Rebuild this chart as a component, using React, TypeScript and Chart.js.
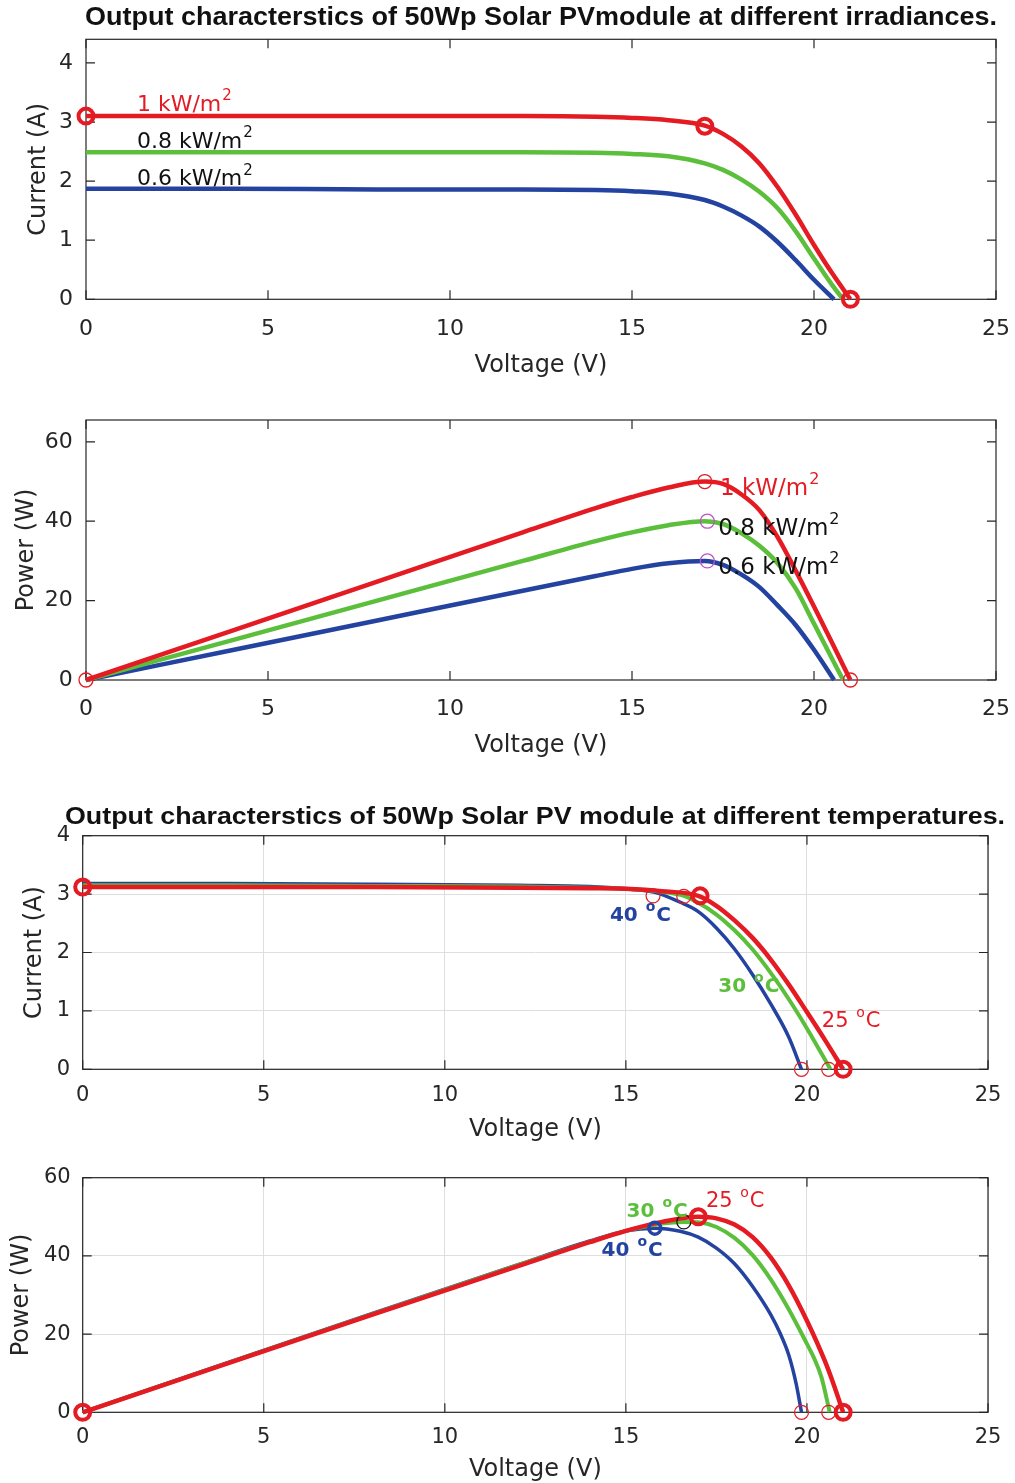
import React, { useEffect, useRef } from 'react';
import { Chart, registerables } from 'chart.js';

Chart.register(...registerables);

// ---------- colours ----------
const RED = '#e41b23';
const GREEN = '#5cbf3c';
const BLUE = '#2443a0';
const MAGENTA = '#c050c8';
const INK = '#262626';
const GRID = '#dedede';

// ---------- axis ticks ----------
const VOLT_MIN = 0;
const VOLT_MAX = 25;
const VOLT_STEP = 5;

// ---------- Panel 1: I-V at different irradiances ----------
const ivIrrV_1 = [0, 4, 8, 12, 14, 15, 16, 17, 17.5, 18, 18.5, 19, 19.5, 20, 20.5, 21];
const ivIrrI_1 = [3.10, 3.10, 3.10, 3.10, 3.09, 3.07, 3.03, 2.94, 2.80, 2.59, 2.30, 1.90, 1.43, 0.92, 0.44, 0];
const ivIrrV_08 = [0, 4, 8, 12, 14, 15, 16, 17, 17.5, 18, 18.5, 19, 19.5, 20, 20.5, 20.8];
const ivIrrI_08 = [2.49, 2.49, 2.49, 2.49, 2.48, 2.46, 2.42, 2.30, 2.19, 2.03, 1.82, 1.54, 1.15, 0.69, 0.24, 0];
const ivIrrV_06 = [0, 4, 8, 12, 14, 15, 16, 17, 17.5, 18, 18.5, 19, 19.5, 20, 20.55];
const ivIrrI_06 = [1.87, 1.87, 1.86, 1.86, 1.85, 1.83, 1.79, 1.68, 1.57, 1.42, 1.23, 0.97, 0.66, 0.33, 0];
const ivIrrMarkV = [0, 17.0, 21.0];
const ivIrrMarkI = [3.10, 2.93, 0];

// ---------- Panel 2: P-V at different irradiances ----------
const pvIrrP_1 = [0, 12.4, 24.8, 37.2, 43.3, 46.1, 48.5, 50.0, 49.4, 46.8, 42.8, 36.0, 27.5, 18.5, 9.3, 0];
const pvIrrP_08 = [0, 10.0, 20.0, 30.0, 35.0, 37.2, 39.0, 40.0, 39.3, 37.0, 33.8, 29.4, 23.0, 14.2, 5.3, 0];
const pvIrrP_06 = [0, 7.5, 15.0, 22.5, 26.2, 28.0, 29.4, 30.0, 29.0, 26.6, 23.4, 18.8, 13.8, 7.6, 0];
const pvIrrRedMarkV = [0, 17.0, 21.0];
const pvIrrRedMarkP = [0, 50.0, 0];
const pvIrrMagMarkV = [17.07, 17.07];
const pvIrrMagMarkP = [40.0, 30.0];

// ---------- Panel 3: I-V at different temperatures ----------
const ivTempV_25 = [0, 4, 8, 12, 14, 15, 16, 17, 17.5, 18, 18.5, 19, 19.5, 20, 20.5, 21];
const ivTempI_25 = [3.12, 3.12, 3.12, 3.11, 3.10, 3.09, 3.05, 2.97, 2.80, 2.55, 2.25, 1.88, 1.45, 0.98, 0.50, 0];
const ivTempV_30 = [0, 4, 8, 12, 14, 15, 16, 16.6, 17, 17.5, 18, 18.5, 19, 19.5, 20, 20.65];
const ivTempI_30 = [3.15, 3.15, 3.14, 3.13, 3.11, 3.09, 3.04, 2.97, 2.85, 2.65, 2.38, 2.05, 1.65, 1.20, 0.70, 0];
const ivTempV_40 = [0, 4, 8, 12, 14, 15, 15.8, 16.5, 17, 17.5, 18, 18.5, 19, 19.5, 19.85];
const ivTempI_40 = [3.18, 3.18, 3.17, 3.15, 3.13, 3.09, 3.03, 2.86, 2.70, 2.42, 2.06, 1.62, 1.12, 0.55, 0];
const ivTempBoldMarkV = [0, 17.05, 21.0];
const ivTempBoldMarkI = [3.12, 2.97, 0];
const ivTempThinMarkV = [15.75, 16.6, 19.85, 20.6];
const ivTempThinMarkI = [2.97, 2.96, 0, 0];

// ---------- Panel 4: P-V at different temperatures ----------
const pvTempV_25 = [0, 4, 8, 12, 14, 15, 16, 17, 17.5, 18, 18.5, 19, 19.5, 20, 20.5, 20.75, 21];
const pvTempP_25 = [0, 12.5, 25.0, 37.3, 43.5, 46.4, 48.7, 50.0, 49.6, 48.0, 44.8, 39.6, 32.4, 23.4, 13.0, 6.8, 0];
const pvTempV_30 = [0, 4, 8, 12, 14, 15, 16, 16.6, 17, 17.5, 18, 18.5, 19, 19.5, 20, 20.2, 20.4, 20.63];
const pvTempP_30 = [0, 12.6, 25.1, 37.6, 43.6, 46.4, 48.3, 48.7, 48.6, 47.4, 44.6, 40.2, 34.0, 26.3, 17.5, 13.8, 9.0, 0];
const pvTempV_40 = [0, 4, 8, 12, 14, 15, 15.8, 16.5, 17, 17.5, 18, 18.5, 19, 19.25, 19.5, 19.7, 19.85];
const pvTempP_40 = [0, 12.7, 25.3, 37.7, 43.8, 46.4, 47.1, 46.3, 44.8, 42.0, 38.0, 32.2, 25.0, 20.4, 14.6, 7.4, 0];
const pvTempRedMarkV = [0, 17.0, 21.0];
const pvTempRedMarkP = [0, 50.0, 0];
const pvTempBlueMarkV = [15.8];
const pvTempBlueMarkP = [47.1];
const pvTempBlackMarkV = [16.6];
const pvTempBlackMarkP = [48.7];
const pvTempThinMarkV = [19.85, 20.6];
const pvTempThinMarkP = [0, 0];

// ---------- texts ----------
const TITLE_IRR = 'Output characterstics of 50Wp Solar PVmodule at different irradiances.';
const TITLE_TEMP = 'Output characterstics of 50Wp Solar PV module at different temperatures.';
const X_TITLE = 'Voltage (V)';
const Y_CURRENT = 'Current (A)';
const Y_POWER = 'Power (W)';

const FONT = '"DejaVu Sans", "Liberation Sans", sans-serif';

type Curve = { xs: number[]; ys: number[]; color: string; w: number };
type Marks = { xs: number[]; ys: number[]; color: string; r: number; w: number };
type Label = { main: string; sup: string; tail: string; x: number; y: number; color: string; bold: boolean; size: number };
type Panel = {
  key: string;
  top: number;
  height: number;
  plot: { left: number; right: number; top: number; bottom: number };
  yMax: number;
  yStep: number;
  yTitle: string;
  yTitleX: number;
  yTickRight: number;
  xTickY: number;
  xTitleY: number;
  tickSize: number;
  grid: boolean;
  title?: { text: string; cx: number; cy: number; width: number; font: string };
  curves: Curve[];
  marks: Marks[];
  labels: Label[];
};

const pts = (xs: number[], ys: number[]) => xs.map((x, i) => ({ x, y: ys[i] }));

const lbl = (main: string, sup: string, tail: string, x: number, y: number, color: string, bold: boolean, size: number): Label => ({ main, sup, tail, x, y, color, bold, size });

const PANELS: Panel[] = [
  {
    key: 'p1', top: 0, height: 392,
    plot: { left: 86, right: 996, top: 39.3, bottom: 299.3 },
    yMax: 4.4, yStep: 1, yTitle: Y_CURRENT, yTitleX: 39, yTickRight: 73,
    xTickY: 329, xTitleY: 366, tickSize: 22, grid: false,
    title: { text: TITLE_IRR, cx: 541, cy: 18, width: 912, font: 'bold 25px "Liberation Sans Narrow", "Liberation Sans", sans-serif' },
    curves: [
      { xs: ivIrrV_1, ys: ivIrrI_1, color: RED, w: 4.5 },
      { xs: ivIrrV_08, ys: ivIrrI_08, color: GREEN, w: 4.5 },
      { xs: ivIrrV_06, ys: ivIrrI_06, color: BLUE, w: 4.5 },
    ],
    marks: [{ xs: ivIrrMarkV, ys: ivIrrMarkI, color: RED, r: 7.5, w: 4 }],
    labels: [
      lbl('1 kW/m', '2', '', 1.4, 3.19, RED, false, 22),
      lbl('0.8 kW/m', '2', '', 1.4, 2.56, '#111111', false, 22),
      lbl('0.6 kW/m', '2', '', 1.4, 1.93, '#111111', false, 22),
    ],
  },
  {
    key: 'p2', top: 395, height: 380,
    plot: { left: 86, right: 996, top: 420, bottom: 680 },
    yMax: 65.5, yStep: 20, yTitle: Y_POWER, yTitleX: 27, yTickRight: 72.7,
    xTickY: 709, xTitleY: 746, tickSize: 22, grid: false,
    curves: [
      { xs: ivIrrV_1, ys: pvIrrP_1, color: RED, w: 4.5 },
      { xs: ivIrrV_08, ys: pvIrrP_08, color: GREEN, w: 4.5 },
      { xs: ivIrrV_06, ys: pvIrrP_06, color: BLUE, w: 4.5 },
    ],
    marks: [
      { xs: pvIrrRedMarkV, ys: pvIrrRedMarkP, color: RED, r: 7, w: 1.3 },
      { xs: pvIrrMagMarkV, ys: pvIrrMagMarkP, color: MAGENTA, r: 7, w: 1.3 },
    ],
    labels: [
      lbl('1 kW/m', '2', '', 17.42, 46.6, RED, false, 23),
      lbl('0.8 kW/m', '2', '', 17.37, 36.5, '#111111', false, 23),
      lbl('0.6 kW/m', '2', '', 17.37, 26.7, '#111111', false, 23),
    ],
  },
  {
    key: 'p3', top: 795, height: 360,
    plot: { left: 82.7, right: 988, top: 835.7, bottom: 1069.3 },
    yMax: 4, yStep: 1, yTitle: Y_CURRENT, yTitleX: 35, yTickRight: 70,
    xTickY: 1096, xTitleY: 1130, tickSize: 21, grid: true,
    title: { text: TITLE_TEMP, cx: 535, cy: 818, width: 940, font: 'bold 23px "Liberation Sans", sans-serif' },
    curves: [
      { xs: ivTempV_25, ys: ivTempI_25, color: RED, w: 4.5 },
      { xs: ivTempV_30, ys: ivTempI_30, color: GREEN, w: 4 },
      { xs: ivTempV_40, ys: ivTempI_40, color: BLUE, w: 3.5 },
    ],
    marks: [
      { xs: ivTempBoldMarkV, ys: ivTempBoldMarkI, color: RED, r: 7.5, w: 4 },
      { xs: ivTempThinMarkV, ys: ivTempThinMarkI, color: RED, r: 7, w: 1.2 },
    ],
    labels: [
      lbl('40 ', 'o', 'C', 14.56, 2.54, BLUE, true, 20),
      lbl('30 ', 'o', 'C', 17.55, 1.33, GREEN, true, 20),
      lbl('25 ', 'o', 'C', 20.41, 0.73, RED, false, 21),
    ],
  },
  {
    key: 'p4', top: 1158, height: 325,
    plot: { left: 82.7, right: 988, top: 1177.7, bottom: 1412.3 },
    yMax: 60, yStep: 20, yTitle: Y_POWER, yTitleX: 21.7, yTickRight: 70.7,
    xTickY: 1438, xTitleY: 1470, tickSize: 21, grid: true,
    curves: [
      { xs: pvTempV_25, ys: pvTempP_25, color: RED, w: 4.5 },
      { xs: pvTempV_30, ys: pvTempP_30, color: GREEN, w: 4 },
      { xs: pvTempV_40, ys: pvTempP_40, color: BLUE, w: 3.5 },
    ],
    marks: [
      { xs: pvTempRedMarkV, ys: pvTempRedMarkP, color: RED, r: 7.5, w: 4 },
      { xs: pvTempBlueMarkV, ys: pvTempBlueMarkP, color: BLUE, r: 6, w: 3.5 },
      { xs: pvTempBlackMarkV, ys: pvTempBlackMarkP, color: '#111111', r: 7, w: 1.2 },
      { xs: pvTempThinMarkV, ys: pvTempThinMarkP, color: RED, r: 7, w: 1.2 },
    ],
    labels: [
      lbl('30 ', 'o', 'C', 15.02, 50.0, GREEN, true, 20),
      lbl('25 ', 'o', 'C', 17.21, 52.4, RED, false, 21),
      lbl('40 ', 'o', 'C', 14.33, 40.0, BLUE, true, 20),
    ],
  },
];

function makePlugin(p: Panel) {
  return {
    id: 'frame_' + p.key,
    beforeDatasetsDraw(chart: any) {
      const { ctx, chartArea: a } = chart;
      const xs = chart.scales.x;
      const ys = chart.scales.y;
      const L = 9;
      ctx.save();
      ctx.strokeStyle = INK;
      ctx.lineWidth = 1.2;
      ctx.strokeRect(a.left, a.top, a.right - a.left, a.bottom - a.top);
      ctx.beginPath();
      xs.ticks.forEach((t: any) => {
        const px = xs.getPixelForValue(t.value);
        ctx.moveTo(px, a.bottom); ctx.lineTo(px, a.bottom - L);
        ctx.moveTo(px, a.top); ctx.lineTo(px, a.top + L);
      });
      ys.ticks.forEach((t: any) => {
        const py = ys.getPixelForValue(t.value);
        ctx.moveTo(a.left, py); ctx.lineTo(a.left + L, py);
        ctx.moveTo(a.right, py); ctx.lineTo(a.right - L, py);
      });
      ctx.stroke();
      ctx.restore();
    },
    afterDatasetsDraw(chart: any) {
      const { ctx } = chart;
      const xs = chart.scales.x;
      const ys = chart.scales.y;
      ctx.save();
      ctx.textAlign = 'left';
      ctx.textBaseline = 'alphabetic';
      p.labels.forEach((l) => {
        const px = xs.getPixelForValue(l.x);
        const py = ys.getPixelForValue(l.y);
        const weight = l.bold ? 'bold ' : '';
        const mainFont = `${weight}${l.size}px ${FONT}`;
        const supFont = `${weight}${Math.round(l.size * 0.68)}px ${FONT}`;
        ctx.fillStyle = l.color;
        ctx.font = mainFont;
        ctx.fillText(l.main, px, py);
        const w1 = ctx.measureText(l.main).width;
        ctx.font = supFont;
        ctx.fillText(l.sup, px + w1 + 1, py - l.size * 0.48);
        const w2 = ctx.measureText(l.sup).width;
        if (l.tail) {
          ctx.font = mainFont;
          ctx.fillText(l.tail, px + w1 + w2 + 2, py);
        }
      });
      ctx.restore();
    },
    afterDraw(chart: any) {
      if (!p.title) return;
      const { ctx } = chart;
      const t = p.title;
      ctx.save();
      ctx.font = t.font;
      const w = ctx.measureText(t.text).width;
      ctx.translate(t.cx, t.cy - p.top);
      ctx.scale(t.width / w, 1);
      ctx.fillStyle = '#111111';
      ctx.textAlign = 'center';
      ctx.textBaseline = 'middle';
      ctx.fillText(t.text, 0, 0);
      ctx.restore();
    },
  };
}

function buildConfig(p: Panel): any {
  const datasets: any[] = [];
  p.marks.forEach((m) =>
    datasets.push({
      data: pts(m.xs, m.ys),
      showLine: false,
      pointStyle: 'circle',
      pointRadius: m.r,
      pointHoverRadius: m.r,
      pointBorderWidth: m.w,
      pointBorderColor: m.color,
      pointBackgroundColor: 'rgba(0,0,0,0)',
      clip: false,
    })
  );
  p.curves.forEach((c) =>
    datasets.push({
      data: pts(c.xs, c.ys),
      showLine: true,
      borderColor: c.color,
      borderWidth: c.w,
      pointRadius: 0,
      pointHoverRadius: 0,
      cubicInterpolationMode: 'monotone',
      fill: false,
      clip: false,
    })
  );
  const canvasBottom = p.top + p.height;
  const tickFont = { family: FONT, size: p.tickSize, lineHeight: 1.2 };
  const axFont = { family: FONT, size: 24, lineHeight: 1 };
  return {
    type: 'scatter',
    data: { datasets },
    options: {
      responsive: false,
      animation: false,
      devicePixelRatio: 1,
      events: [],
      layout: { padding: { left: 0, top: p.plot.top - p.top, right: 1015 - p.plot.right, bottom: 0 } },
      plugins: { legend: { display: false }, tooltip: { enabled: false }, title: { display: false } },
      scales: {
        x: {
          type: 'linear',
          position: 'bottom',
          min: VOLT_MIN,
          max: VOLT_MAX,
          ticks: {
            stepSize: VOLT_STEP,
            includeBounds: false,
            autoSkip: false,
            maxRotation: 0,
            padding: p.xTickY - p.plot.bottom - p.tickSize * 0.6,
            font: tickFont,
            color: INK,
          },
          grid: { display: p.grid, drawTicks: false, color: GRID, lineWidth: 1 },
          border: { display: false },
          title: {
            display: true,
            text: X_TITLE,
            color: INK,
            font: axFont,
            padding: { top: 0, bottom: canvasBottom - p.xTitleY - 12 },
          },
          afterFit: (s: any) => {
            s.height = canvasBottom - p.plot.bottom;
            s.paddingLeft = 0;
            s.paddingRight = 0;
          },
        },
        y: {
          type: 'linear',
          position: 'left',
          min: 0,
          max: p.yMax,
          ticks: {
            stepSize: p.yStep,
            includeBounds: false,
            padding: p.plot.left - p.yTickRight,
            font: tickFont,
            color: INK,
          },
          grid: { display: p.grid, drawTicks: false, color: GRID, lineWidth: 1 },
          border: { display: false },
          title: {
            display: true,
            text: p.yTitle,
            color: INK,
            font: axFont,
            padding: { top: p.yTitleX - 12, bottom: 0 },
          },
          afterFit: (s: any) => {
            s.width = p.plot.left;
            s.paddingTop = 0;
            s.paddingBottom = 0;
          },
        },
      },
    },
    plugins: [makePlugin(p)],
  };
}

function PanelChart({ panel }: { panel: Panel }) {
  const ref = useRef<HTMLCanvasElement | null>(null);
  useEffect(() => {
    if (!ref.current) return;
    const chart = new Chart(ref.current, buildConfig(panel));
    return () => chart.destroy();
  }, [panel]);
  return (
    <canvas
      ref={ref}
      width={1015}
      height={panel.height}
      style={{ position: 'absolute', left: 0, top: panel.top, width: 1015, height: panel.height }}
    />
  );
}

export default function App() {
  return (
    <div style={{ position: 'absolute', left: 0, top: 0, width: 1015, height: 1483, background: '#ffffff', overflow: 'hidden' }}>
      {PANELS.map((p) => (
        <PanelChart key={p.key} panel={p} />
      ))}
    </div>
  );
}
